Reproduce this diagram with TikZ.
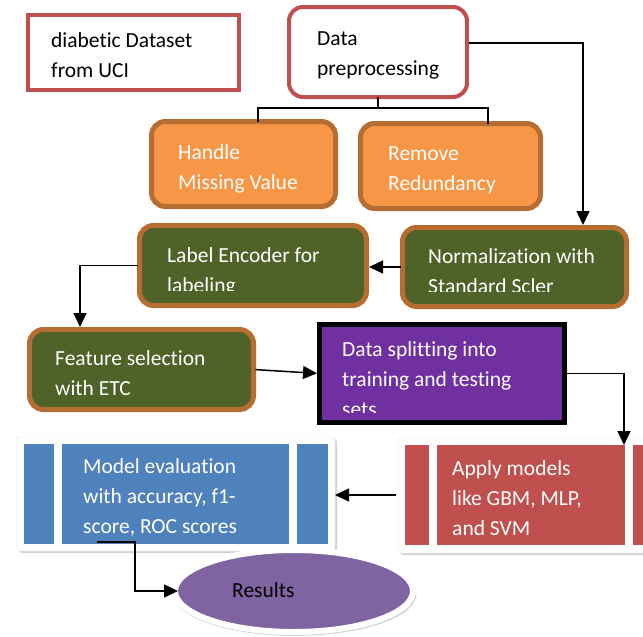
\documentclass[tikz,border=0pt]{standalone}
\usepackage{fontspec}
\setmainfont{Carlito}[Ligatures=NoCommon]
\usetikzlibrary{arrows.meta,shapes.geometric,shadows}
\definecolor{boxred}{HTML}{C0504D}
\definecolor{boxbrown}{HTML}{B66D31}
\definecolor{boxorange}{HTML}{F79646}
\definecolor{boxgreen}{HTML}{4F6228}
\definecolor{boxpurple}{HTML}{7030A0}
\definecolor{evalblue}{HTML}{4F81BD}
\definecolor{respurple}{HTML}{8064A2}
\tikzset{
  box/.style={anchor=north west,inner sep=0pt,outer sep=0pt},
  redbox/.style={box,draw=boxred,line width=4pt,fill=white},
  orbox/.style={box,draw=boxbrown,line width=5pt,fill=boxorange,rounded corners=14pt},
  grbox/.style={box,draw=boxbrown,line width=5pt,fill=boxgreen,rounded corners=14pt},
  frame/.style={box,draw=black!12,line width=.4pt,fill=white,rounded corners=3pt,
    drop shadow={opacity=.35,shadow xshift=2pt,shadow yshift=-2pt}},
  txt/.style={anchor=base west,align=left,inner sep=0pt,font=\fontsize{21.5pt}{30pt}\selectfont},
  arr/.style={line width=1.5pt,shorten <=2pt,shorten >=2.5pt,-{Triangle[length=14pt,width=13pt]}},
}
\begin{document}
\begin{tikzpicture}[x=1pt,y=-1pt]
\clip (0,0) rectangle (643,637);
% boxes
\node[redbox,minimum width=211pt,minimum height=75pt] (data) at (28,15) {};
\node[redbox,rounded corners=14pt,minimum width=178pt,minimum height=90pt] (prep) at (289,7) {};
\node[orbox,minimum width=184pt,minimum height=85pt] (missing) at (151.5,121.5) {};
\node[orbox,minimum width=180pt,minimum height=85pt] (redund) at (360.5,123.5) {};
\node[grbox,minimum width=227pt,minimum height=80pt] (encoder) at (139.5,225.5) {};
\node[grbox,minimum width=224pt,minimum height=79pt] (norm) at (402.5,227.5) {};
\node[grbox,minimum width=224pt,minimum height=80pt] (feature) at (29.5,329.5) {};
\node[box,draw=black,line width=5pt,fill=boxpurple,minimum width=245pt,minimum height=98pt] (split) at (319.5,324.5) {};
\node[frame,minimum width=318pt,minimum height=114pt] (eval) at (17,437) {};
\node[frame,minimum width=280pt,minimum height=115pt] (apply) at (398,438) {};
\foreach \a/\b in {24/54,62/289,297/328}{\fill[evalblue] (\a,444) rectangle (\b,544);}
\foreach \a/\b in {405/429,437/625,633/660}{\fill[boxred] (\a,445) rectangle (\b,545);}
\node[ellipse,draw=white,line width=6pt,fill=respurple,minimum width=238pt,minimum height=82pt,
  inner sep=0pt,outer sep=0pt,drop shadow={opacity=.35,shadow scale=1.02,shadow xshift=1pt,shadow yshift=-3pt}] (res) at (294,591) {};
% texts (base = last line)
\node[txt] (data-t) at (51,77) {diabetic Dataset\\from UCI};
\node[txt] (prep-t) at (317,75) {Data\\preprocessing};
\node[txt,white] (missing-t) at (178,189) {Handle\\Missing Value};
\node[txt,white] (redund-t) at (388,190) {Remove\\Redundancy};
\begin{scope}
\clip (140,226) rectangle (366,290);
\node[txt,white] (encoder-t) at (167,292) {Label Encoder for\\labeling};
\end{scope}
\begin{scope}
\clip (403,228) rectangle (626,291);
\node[txt,white] (norm-t) at (428,293) {Normalization with\\Standard Scler};
\end{scope}
\node[txt,white] (feature-t) at (55,395) {Feature selection\\with ETC};
\begin{scope}
\clip (320,325) rectangle (564,412);
\node[txt,white] (split-t) at (342,416) {Data splitting into\\training and testing\\sets};
\end{scope}
\node[txt,white] (eval-t) at (83,533) {Model evaluation\\with accuracy, f1-\\score, ROC scores};
\node[txt,white] (apply-t) at (452,535) {Apply models\\like GBM, MLP,\\and SVM};
\node[txt] (res-t) at (232,597) {Results};
% connectors
\draw[line width=1.2pt] (prep.south) -- (prep.south |- 0,108);
\draw[line width=1.2pt] (missing.north -| 258,0) -- (258,108) -- (488,108) -- (redund.north -| 488,0);
\draw[arr] (prep.east |- 0,43) -| (norm.north -| 583,0);
\draw[arr] (norm.west) -- (norm.west -| encoder.east);
\draw[arr] (encoder.west) -| (feature.north -| 80,0);
\draw[arr] (feature.east) -- (split.west);
\coordinate (applyin) at (624,445);
\draw[arr,shorten >=0pt] (split.east) -| (applyin);
\draw[arr,shorten >=0pt] (apply.west |- 0,495) -- (eval.east |- 0,495);
\coordinate (evalout) at (97,542);
\draw[arr,shorten <=0pt,shorten >=-3pt] (evalout) -| (res.west -| 135,0) -- (res.west);
\end{tikzpicture}
\end{document}
